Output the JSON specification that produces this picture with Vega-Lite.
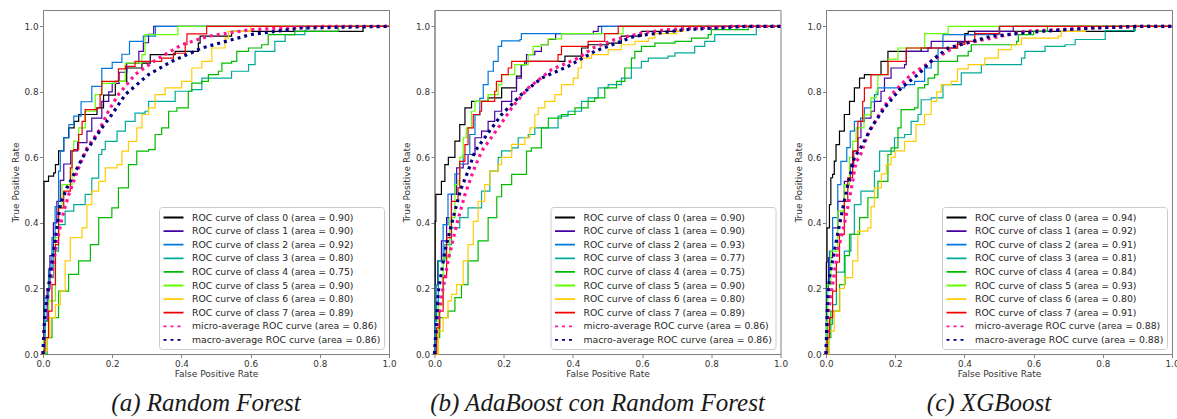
{
  "$schema": "https://vega.github.io/schema/vega-lite/v6.json",
  "background": "white",
  "padding": {"left": 10, "top": 9, "right": 0, "bottom": 0},
  "autosize": {"type": "pad"},
  "config": {
    "font": "DejaVu Sans",
    "view": {"stroke": "#808080", "strokeWidth": 1},
    "axis": {"grid": false, "domainColor": "#808080", "domainWidth": 1, "tickColor": "#808080", "tickSize": 3.5, "tickWidth": 1,
      "labelFont": "DejaVu Sans", "labelFontSize": 8.8, "labelColor": "#333333", "labelPadding": 1.5, "labelFlush": false,
      "titleFont": "DejaVu Sans", "titleFontSize": 9, "titleFontWeight": "normal", "titleColor": "#333333", "titlePadding": 2},
    "axisY": {"titlePadding": 4},
    "legend": {"orient": "bottom-right", "offset": 5, "padding": 3, "fillColor": "rgba(255,255,255,0.8)", "strokeColor": "#cccccc",
      "cornerRadius": 3, "labelFont": "DejaVu Sans", "labelFontSize": 9.3, "labelColor": "#262626", "labelLimit": 0, "labelOffset": 11,
      "symbolType": "M-1.6,0H1.6", "symbolSize": 156, "symbolOffset": 4, "rowPadding": 0.6, "symbolStrokeWidth": 1.8},
    "title": {"font": "Liberation Serif", "fontStyle": "italic", "fontWeight": "normal", "fontSize": 25, "color": "#1a1a1a", "orient": "bottom", "offset": 12, "anchor": "middle", "dx": -10}
  },
  "datasets": {
    "rf": [
      {"k":0,"x":0,"y":0},{"k":0,"x":0.003,"y":0.37},{"k":0,"x":0.003,"y":0.527},{"k":0,"x":0.016,"y":0.543},{"k":0,"x":0.031,"y":0.553},{"k":0,"x":0.036,"y":0.578},{"k":0,"x":0.045,"y":0.62},{"k":0,"x":0.06,"y":0.66},{"k":0,"x":0.074,"y":0.69},{"k":0,"x":0.09,"y":0.71},{"k":0,"x":0.103,"y":0.731},{"k":0,"x":0.156,"y":0.751},{"k":0,"x":0.175,"y":0.79},{"k":0,"x":0.209,"y":0.832},{"k":0,"x":0.242,"y":0.873},{"k":0,"x":0.286,"y":0.888},{"k":0,"x":0.31,"y":0.914},{"k":0,"x":0.382,"y":0.924},{"k":0,"x":0.449,"y":0.949},{"k":0,"x":0.454,"y":0.97},{"k":0,"x":0.526,"y":0.97},{"k":0,"x":0.545,"y":0.985},{"k":0,"x":0.925,"y":0.985},{"k":0,"x":0.925,"y":1},{"k":0,"x":1,"y":1},
      {"k":1,"x":0,"y":0},{"k":1,"x":0.005,"y":0.1},{"k":1,"x":0.012,"y":0.2},{"k":1,"x":0.02,"y":0.3},{"k":1,"x":0.03,"y":0.4},{"k":1,"x":0.04,"y":0.466},{"k":1,"x":0.05,"y":0.53},{"k":1,"x":0.06,"y":0.58},{"k":1,"x":0.08,"y":0.62},{"k":1,"x":0.1,"y":0.645},{"k":1,"x":0.127,"y":0.68},{"k":1,"x":0.141,"y":0.72},{"k":1,"x":0.17,"y":0.771},{"k":1,"x":0.19,"y":0.8},{"k":1,"x":0.2,"y":0.826},{"k":1,"x":0.22,"y":0.86},{"k":1,"x":0.242,"y":0.887},{"k":1,"x":0.277,"y":0.924},{"k":1,"x":0.29,"y":0.95},{"k":1,"x":0.305,"y":0.976},{"k":1,"x":0.32,"y":1},{"k":1,"x":1,"y":1},
      {"k":2,"x":0,"y":0},{"k":2,"x":0.005,"y":0.17},{"k":2,"x":0.016,"y":0.26},{"k":2,"x":0.026,"y":0.355},{"k":2,"x":0.035,"y":0.45},{"k":2,"x":0.045,"y":0.558},{"k":2,"x":0.05,"y":0.62},{"k":2,"x":0.06,"y":0.66},{"k":2,"x":0.075,"y":0.7},{"k":2,"x":0.089,"y":0.726},{"k":2,"x":0.11,"y":0.77},{"k":2,"x":0.141,"y":0.817},{"k":2,"x":0.17,"y":0.872},{"k":2,"x":0.2,"y":0.89},{"k":2,"x":0.228,"y":0.915},{"k":2,"x":0.25,"y":0.954},{"k":2,"x":0.29,"y":0.97},{"k":2,"x":0.325,"y":1},{"k":2,"x":1,"y":1},
      {"k":3,"x":0,"y":0},{"k":3,"x":0.005,"y":0.1},{"k":3,"x":0.016,"y":0.233},{"k":3,"x":0.031,"y":0.314},{"k":3,"x":0.045,"y":0.395},{"k":3,"x":0.064,"y":0.436},{"k":3,"x":0.089,"y":0.456},{"k":3,"x":0.122,"y":0.487},{"k":3,"x":0.141,"y":0.537},{"k":3,"x":0.161,"y":0.609},{"k":3,"x":0.17,"y":0.624},{"k":3,"x":0.18,"y":0.649},{"k":3,"x":0.214,"y":0.68},{"k":3,"x":0.238,"y":0.71},{"k":3,"x":0.266,"y":0.735},{"k":3,"x":0.295,"y":0.741},{"k":3,"x":0.305,"y":0.771},{"k":3,"x":0.377,"y":0.771},{"k":3,"x":0.382,"y":0.802},{"k":3,"x":0.43,"y":0.807},{"k":3,"x":0.459,"y":0.842},{"k":3,"x":0.507,"y":0.842},{"k":3,"x":0.545,"y":0.863},{"k":3,"x":0.594,"y":0.883},{"k":3,"x":0.613,"y":0.924},{"k":3,"x":0.67,"y":0.954},{"k":3,"x":0.7,"y":0.975},{"k":3,"x":0.757,"y":0.987},{"k":3,"x":0.76,"y":1},{"k":3,"x":1,"y":1},
      {"k":4,"x":0,"y":0},{"k":4,"x":0.012,"y":0.05},{"k":4,"x":0.026,"y":0.111},{"k":4,"x":0.045,"y":0.192},{"k":4,"x":0.074,"y":0.243},{"k":4,"x":0.103,"y":0.284},{"k":4,"x":0.137,"y":0.334},{"k":4,"x":0.161,"y":0.416},{"k":4,"x":0.199,"y":0.446},{"k":4,"x":0.218,"y":0.507},{"k":4,"x":0.247,"y":0.578},{"k":4,"x":0.271,"y":0.619},{"k":4,"x":0.305,"y":0.624},{"k":4,"x":0.324,"y":0.67},{"k":4,"x":0.343,"y":0.69},{"k":4,"x":0.363,"y":0.741},{"k":4,"x":0.387,"y":0.751},{"k":4,"x":0.42,"y":0.802},{"k":4,"x":0.43,"y":0.827},{"k":4,"x":0.459,"y":0.832},{"k":4,"x":0.478,"y":0.853},{"k":4,"x":0.507,"y":0.863},{"k":4,"x":0.517,"y":0.888},{"k":4,"x":0.545,"y":0.893},{"k":4,"x":0.56,"y":0.924},{"k":4,"x":0.594,"y":0.934},{"k":4,"x":0.632,"y":0.944},{"k":4,"x":0.651,"y":0.975},{"k":4,"x":0.728,"y":0.985},{"k":4,"x":0.853,"y":0.99},{"k":4,"x":0.853,"y":1},{"k":4,"x":1,"y":1},
      {"k":5,"x":0,"y":0},{"k":5,"x":0.002,"y":0.05},{"k":5,"x":0.016,"y":0.162},{"k":5,"x":0.036,"y":0.355},{"k":5,"x":0.045,"y":0.446},{"k":5,"x":0.055,"y":0.517},{"k":5,"x":0.084,"y":0.619},{"k":5,"x":0.089,"y":0.65},{"k":5,"x":0.103,"y":0.69},{"k":5,"x":0.122,"y":0.741},{"k":5,"x":0.151,"y":0.792},{"k":5,"x":0.17,"y":0.826},{"k":5,"x":0.209,"y":0.832},{"k":5,"x":0.238,"y":0.888},{"k":5,"x":0.286,"y":0.914},{"k":5,"x":0.295,"y":0.975},{"k":5,"x":0.39,"y":0.975},{"k":5,"x":0.39,"y":1},{"k":5,"x":1,"y":1},
      {"k":6,"x":0,"y":0},{"k":6,"x":0.005,"y":0.01},{"k":6,"x":0.012,"y":0.05},{"k":6,"x":0.02,"y":0.111},{"k":6,"x":0.036,"y":0.151},{"k":6,"x":0.05,"y":0.192},{"k":6,"x":0.064,"y":0.284},{"k":6,"x":0.079,"y":0.355},{"k":6,"x":0.113,"y":0.385},{"k":6,"x":0.127,"y":0.456},{"k":6,"x":0.141,"y":0.497},{"k":6,"x":0.161,"y":0.527},{"k":6,"x":0.18,"y":0.568},{"k":6,"x":0.214,"y":0.578},{"k":6,"x":0.228,"y":0.619},{"k":6,"x":0.247,"y":0.649},{"k":6,"x":0.271,"y":0.69},{"k":6,"x":0.286,"y":0.731},{"k":6,"x":0.305,"y":0.751},{"k":6,"x":0.324,"y":0.792},{"k":6,"x":0.353,"y":0.812},{"k":6,"x":0.401,"y":0.832},{"k":6,"x":0.43,"y":0.873},{"k":6,"x":0.459,"y":0.893},{"k":6,"x":0.488,"y":0.934},{"k":6,"x":0.526,"y":0.964},{"k":6,"x":0.536,"y":0.985},{"k":6,"x":0.6,"y":0.985},{"k":6,"x":0.6,"y":1},{"k":6,"x":1,"y":1},
      {"k":7,"x":0,"y":0},{"k":7,"x":0.002,"y":0.01},{"k":7,"x":0.005,"y":0.05},{"k":7,"x":0.016,"y":0.131},{"k":7,"x":0.026,"y":0.212},{"k":7,"x":0.036,"y":0.334},{"k":7,"x":0.045,"y":0.446},{"k":7,"x":0.06,"y":0.497},{"k":7,"x":0.079,"y":0.568},{"k":7,"x":0.084,"y":0.619},{"k":7,"x":0.089,"y":0.624},{"k":7,"x":0.103,"y":0.67},{"k":7,"x":0.113,"y":0.71},{"k":7,"x":0.122,"y":0.746},{"k":7,"x":0.156,"y":0.751},{"k":7,"x":0.165,"y":0.792},{"k":7,"x":0.17,"y":0.832},{"k":7,"x":0.2,"y":0.832},{"k":7,"x":0.218,"y":0.87},{"k":7,"x":0.238,"y":0.878},{"k":7,"x":0.266,"y":0.893},{"k":7,"x":0.343,"y":0.903},{"k":7,"x":0.377,"y":0.918},{"k":7,"x":0.411,"y":0.944},{"k":7,"x":0.416,"y":0.977},{"k":7,"x":0.473,"y":0.977},{"k":7,"x":0.473,"y":1},{"k":7,"x":1,"y":1},
      {"k":8,"x":0,"y":0},{"k":8,"x":0.005,"y":0.1},{"k":8,"x":0.015,"y":0.19},{"k":8,"x":0.026,"y":0.25},{"k":8,"x":0.04,"y":0.34},{"k":8,"x":0.055,"y":0.415},{"k":8,"x":0.074,"y":0.485},{"k":8,"x":0.1,"y":0.56},{"k":8,"x":0.125,"y":0.625},{"k":8,"x":0.161,"y":0.68},{"k":8,"x":0.189,"y":0.741},{"k":8,"x":0.218,"y":0.792},{"k":8,"x":0.266,"y":0.853},{"k":8,"x":0.334,"y":0.903},{"k":8,"x":0.401,"y":0.944},{"k":8,"x":0.478,"y":0.97},{"k":8,"x":0.6,"y":0.99},{"k":8,"x":0.8,"y":1},{"k":8,"x":1,"y":1},
      {"k":9,"x":0,"y":0},{"k":9,"x":0.005,"y":0.12},{"k":9,"x":0.022,"y":0.253},{"k":9,"x":0.036,"y":0.355},{"k":9,"x":0.05,"y":0.456},{"k":9,"x":0.069,"y":0.507},{"k":9,"x":0.1,"y":0.57},{"k":9,"x":0.125,"y":0.62},{"k":9,"x":0.151,"y":0.66},{"k":9,"x":0.17,"y":0.69},{"k":9,"x":0.199,"y":0.731},{"k":9,"x":0.238,"y":0.792},{"k":9,"x":0.305,"y":0.853},{"k":9,"x":0.372,"y":0.893},{"k":9,"x":0.459,"y":0.934},{"k":9,"x":0.6,"y":0.975},{"k":9,"x":0.747,"y":0.995},{"k":9,"x":1,"y":1}
    ],
    "ada": [
      {"k":0,"x":0,"y":0},{"k":0,"x":0.002,"y":0.405},{"k":0,"x":0.004,"y":0.487},{"k":0,"x":0.015,"y":0.487},{"k":0,"x":0.02,"y":0.527},{"k":0,"x":0.03,"y":0.578},{"k":0,"x":0.04,"y":0.6},{"k":0,"x":0.059,"y":0.65},{"k":0,"x":0.073,"y":0.7},{"k":0,"x":0.088,"y":0.751},{"k":0,"x":0.107,"y":0.771},{"k":0,"x":0.131,"y":0.771},{"k":0,"x":0.155,"y":0.782},{"k":0,"x":0.194,"y":0.812},{"k":0,"x":0.223,"y":0.812},{"k":0,"x":0.237,"y":0.848},{"k":0,"x":0.251,"y":0.883},{"k":0,"x":0.261,"y":0.893},{"k":0,"x":0.357,"y":0.893},{"k":0,"x":0.377,"y":0.909},{"k":0,"x":0.425,"y":0.934},{"k":0,"x":0.444,"y":0.944},{"k":0,"x":0.502,"y":0.949},{"k":0,"x":0.54,"y":0.97},{"k":0,"x":0.598,"y":0.985},{"k":0,"x":0.714,"y":0.99},{"k":0,"x":0.714,"y":1},{"k":0,"x":1,"y":1},
      {"k":1,"x":0,"y":0},{"k":1,"x":0.002,"y":0.1},{"k":1,"x":0.004,"y":0.21},{"k":1,"x":0.009,"y":0.284},{"k":1,"x":0.02,"y":0.345},{"k":1,"x":0.035,"y":0.416},{"k":1,"x":0.049,"y":0.487},{"k":1,"x":0.064,"y":0.568},{"k":1,"x":0.083,"y":0.58},{"k":1,"x":0.097,"y":0.609},{"k":1,"x":0.117,"y":0.66},{"k":1,"x":0.136,"y":0.68},{"k":1,"x":0.155,"y":0.71},{"k":1,"x":0.174,"y":0.741},{"k":1,"x":0.194,"y":0.771},{"k":1,"x":0.223,"y":0.802},{"k":1,"x":0.237,"y":0.842},{"k":1,"x":0.251,"y":0.883},{"k":1,"x":0.266,"y":0.914},{"k":1,"x":0.29,"y":0.924},{"k":1,"x":0.309,"y":0.944},{"k":1,"x":0.329,"y":0.96},{"k":1,"x":0.35,"y":0.978},{"k":1,"x":0.459,"y":0.985},{"k":1,"x":0.473,"y":1},{"k":1,"x":1,"y":1},
      {"k":2,"x":0,"y":0},{"k":2,"x":0.002,"y":0.1},{"k":2,"x":0.006,"y":0.16},{"k":2,"x":0.011,"y":0.284},{"k":2,"x":0.025,"y":0.395},{"k":2,"x":0.039,"y":0.488},{"k":2,"x":0.059,"y":0.55},{"k":2,"x":0.073,"y":0.58},{"k":2,"x":0.083,"y":0.609},{"k":2,"x":0.102,"y":0.67},{"k":2,"x":0.117,"y":0.73},{"k":2,"x":0.131,"y":0.78},{"k":2,"x":0.141,"y":0.822},{"k":2,"x":0.155,"y":0.863},{"k":2,"x":0.17,"y":0.893},{"k":2,"x":0.184,"y":0.939},{"k":2,"x":0.194,"y":0.956},{"k":2,"x":0.247,"y":0.96},{"k":2,"x":0.251,"y":0.978},{"k":2,"x":0.372,"y":0.978},{"k":2,"x":0.483,"y":1},{"k":2,"x":1,"y":1},
      {"k":3,"x":0,"y":0},{"k":3,"x":0.002,"y":0.1},{"k":3,"x":0.004,"y":0.21},{"k":3,"x":0.011,"y":0.284},{"k":3,"x":0.03,"y":0.334},{"k":3,"x":0.049,"y":0.385},{"k":3,"x":0.073,"y":0.416},{"k":3,"x":0.097,"y":0.446},{"k":3,"x":0.136,"y":0.497},{"k":3,"x":0.16,"y":0.558},{"k":3,"x":0.184,"y":0.6},{"k":3,"x":0.194,"y":0.62},{"k":3,"x":0.223,"y":0.629},{"k":3,"x":0.242,"y":0.66},{"k":3,"x":0.271,"y":0.67},{"k":3,"x":0.29,"y":0.69},{"k":3,"x":0.319,"y":0.69},{"k":3,"x":0.357,"y":0.726},{"k":3,"x":0.386,"y":0.741},{"k":3,"x":0.425,"y":0.771},{"k":3,"x":0.444,"y":0.782},{"k":3,"x":0.473,"y":0.812},{"k":3,"x":0.502,"y":0.822},{"k":3,"x":0.54,"y":0.842},{"k":3,"x":0.569,"y":0.873},{"k":3,"x":0.598,"y":0.893},{"k":3,"x":0.618,"y":0.903},{"k":3,"x":0.675,"y":0.909},{"k":3,"x":0.695,"y":0.919},{"k":3,"x":0.752,"y":0.939},{"k":3,"x":0.781,"y":0.954},{"k":3,"x":0.81,"y":0.975},{"k":3,"x":0.93,"y":0.985},{"k":3,"x":0.93,"y":1},{"k":3,"x":1,"y":1},
      {"k":4,"x":0,"y":0},{"k":4,"x":0.006,"y":0.05},{"k":4,"x":0.015,"y":0.111},{"k":4,"x":0.039,"y":0.131},{"k":4,"x":0.059,"y":0.172},{"k":4,"x":0.078,"y":0.212},{"k":4,"x":0.097,"y":0.284},{"k":4,"x":0.126,"y":0.345},{"k":4,"x":0.155,"y":0.416},{"k":4,"x":0.18,"y":0.48},{"k":4,"x":0.194,"y":0.517},{"k":4,"x":0.223,"y":0.548},{"k":4,"x":0.266,"y":0.619},{"k":4,"x":0.28,"y":0.629},{"k":4,"x":0.309,"y":0.69},{"k":4,"x":0.329,"y":0.72},{"k":4,"x":0.367,"y":0.731},{"k":4,"x":0.406,"y":0.751},{"k":4,"x":0.444,"y":0.771},{"k":4,"x":0.463,"y":0.782},{"k":4,"x":0.492,"y":0.812},{"k":4,"x":0.526,"y":0.832},{"k":4,"x":0.55,"y":0.873},{"k":4,"x":0.569,"y":0.903},{"k":4,"x":0.579,"y":0.924},{"k":4,"x":0.598,"y":0.939},{"k":4,"x":0.637,"y":0.949},{"k":4,"x":0.695,"y":0.954},{"k":4,"x":0.743,"y":0.964},{"k":4,"x":0.791,"y":0.975},{"k":4,"x":0.8,"y":0.99},{"k":4,"x":0.907,"y":0.99},{"k":4,"x":0.907,"y":1},{"k":4,"x":1,"y":1},
      {"k":5,"x":0,"y":0},{"k":5,"x":0.011,"y":0.15},{"k":5,"x":0.025,"y":0.294},{"k":5,"x":0.044,"y":0.416},{"k":5,"x":0.059,"y":0.517},{"k":5,"x":0.068,"y":0.53},{"k":5,"x":0.073,"y":0.6},{"k":5,"x":0.083,"y":0.66},{"k":5,"x":0.092,"y":0.69},{"k":5,"x":0.107,"y":0.741},{"k":5,"x":0.117,"y":0.771},{"k":5,"x":0.155,"y":0.792},{"k":5,"x":0.184,"y":0.822},{"k":5,"x":0.194,"y":0.853},{"k":5,"x":0.232,"y":0.883},{"k":5,"x":0.271,"y":0.914},{"k":5,"x":0.285,"y":0.939},{"k":5,"x":0.309,"y":0.944},{"k":5,"x":0.329,"y":0.962},{"k":5,"x":0.367,"y":0.978},{"k":5,"x":0.545,"y":0.978},{"k":5,"x":0.545,"y":1},{"k":5,"x":1,"y":1},
      {"k":6,"x":0,"y":0},{"k":6,"x":0.011,"y":0.07},{"k":6,"x":0.025,"y":0.111},{"k":6,"x":0.039,"y":0.162},{"k":6,"x":0.049,"y":0.182},{"k":6,"x":0.064,"y":0.212},{"k":6,"x":0.083,"y":0.284},{"k":6,"x":0.097,"y":0.334},{"k":6,"x":0.112,"y":0.405},{"k":6,"x":0.126,"y":0.466},{"k":6,"x":0.145,"y":0.517},{"k":6,"x":0.16,"y":0.558},{"k":6,"x":0.184,"y":0.578},{"k":6,"x":0.194,"y":0.6},{"k":6,"x":0.223,"y":0.64},{"k":6,"x":0.261,"y":0.66},{"k":6,"x":0.276,"y":0.69},{"k":6,"x":0.29,"y":0.731},{"k":6,"x":0.3,"y":0.751},{"k":6,"x":0.319,"y":0.771},{"k":6,"x":0.348,"y":0.792},{"k":6,"x":0.367,"y":0.822},{"k":6,"x":0.401,"y":0.842},{"k":6,"x":0.415,"y":0.873},{"k":6,"x":0.425,"y":0.903},{"k":6,"x":0.454,"y":0.914},{"k":6,"x":0.502,"y":0.929},{"k":6,"x":0.54,"y":0.944},{"k":6,"x":0.579,"y":0.954},{"k":6,"x":0.618,"y":0.964},{"k":6,"x":0.637,"y":0.978},{"k":6,"x":0.7,"y":0.985},{"k":6,"x":0.72,"y":1},{"k":6,"x":1,"y":1},
      {"k":7,"x":0,"y":0},{"k":7,"x":0.006,"y":0.08},{"k":7,"x":0.015,"y":0.131},{"k":7,"x":0.025,"y":0.233},{"k":7,"x":0.035,"y":0.355},{"k":7,"x":0.049,"y":0.466},{"k":7,"x":0.068,"y":0.507},{"k":7,"x":0.073,"y":0.588},{"k":7,"x":0.088,"y":0.639},{"k":7,"x":0.097,"y":0.69},{"k":7,"x":0.112,"y":0.731},{"k":7,"x":0.131,"y":0.741},{"k":7,"x":0.136,"y":0.771},{"k":7,"x":0.174,"y":0.802},{"k":7,"x":0.179,"y":0.832},{"k":7,"x":0.194,"y":0.853},{"k":7,"x":0.213,"y":0.873},{"k":7,"x":0.223,"y":0.893},{"k":7,"x":0.309,"y":0.893},{"k":7,"x":0.357,"y":0.914},{"k":7,"x":0.367,"y":0.939},{"k":7,"x":0.406,"y":0.939},{"k":7,"x":0.444,"y":0.954},{"k":7,"x":0.492,"y":0.978},{"k":7,"x":0.531,"y":1},{"k":7,"x":1,"y":1},
      {"k":8,"x":0,"y":0},{"k":8,"x":0.006,"y":0.07},{"k":8,"x":0.02,"y":0.172},{"k":8,"x":0.039,"y":0.284},{"k":8,"x":0.064,"y":0.395},{"k":8,"x":0.088,"y":0.487},{"k":8,"x":0.112,"y":0.558},{"k":8,"x":0.136,"y":0.619},{"k":8,"x":0.184,"y":0.69},{"k":8,"x":0.223,"y":0.751},{"k":8,"x":0.271,"y":0.812},{"k":8,"x":0.338,"y":0.868},{"k":8,"x":0.415,"y":0.903},{"k":8,"x":0.46,"y":0.935},{"k":8,"x":0.521,"y":0.96},{"k":8,"x":0.6,"y":0.98},{"k":8,"x":0.675,"y":0.99},{"k":8,"x":0.85,"y":1},{"k":8,"x":1,"y":1},
      {"k":9,"x":0,"y":0},{"k":9,"x":0.011,"y":0.19},{"k":9,"x":0.03,"y":0.314},{"k":9,"x":0.054,"y":0.416},{"k":9,"x":0.075,"y":0.5},{"k":9,"x":0.097,"y":0.558},{"k":9,"x":0.117,"y":0.619},{"k":9,"x":0.145,"y":0.66},{"k":9,"x":0.194,"y":0.731},{"k":9,"x":0.251,"y":0.792},{"k":9,"x":0.309,"y":0.842},{"k":9,"x":0.386,"y":0.878},{"k":9,"x":0.463,"y":0.924},{"k":9,"x":0.579,"y":0.97},{"k":9,"x":0.724,"y":0.99},{"k":9,"x":0.9,"y":1},{"k":9,"x":1,"y":1}
    ],
    "xgb": [
      {"k":0,"x":0,"y":0},{"k":0,"x":0.001,"y":0.28},{"k":0,"x":0.003,"y":0.385},{"k":0,"x":0.01,"y":0.456},{"k":0,"x":0.014,"y":0.538},{"k":0,"x":0.019,"y":0.548},{"k":0,"x":0.024,"y":0.589},{"k":0,"x":0.029,"y":0.639},{"k":0,"x":0.039,"y":0.68},{"k":0,"x":0.053,"y":0.731},{"k":0,"x":0.068,"y":0.771},{"k":0,"x":0.082,"y":0.812},{"k":0,"x":0.097,"y":0.842},{"k":0,"x":0.111,"y":0.853},{"k":0,"x":0.15,"y":0.853},{"k":0,"x":0.159,"y":0.893},{"k":0,"x":0.179,"y":0.924},{"k":0,"x":0.271,"y":0.924},{"k":0,"x":0.275,"y":0.934},{"k":0,"x":0.38,"y":0.95},{"k":0,"x":0.401,"y":0.978},{"k":0,"x":0.411,"y":0.985},{"k":0,"x":0.807,"y":0.985},{"k":0,"x":0.89,"y":0.99},{"k":0,"x":0.89,"y":1},{"k":0,"x":1,"y":1},
      {"k":1,"x":0,"y":0},{"k":1,"x":0.002,"y":0.2},{"k":1,"x":0.007,"y":0.294},{"k":1,"x":0.019,"y":0.385},{"k":1,"x":0.034,"y":0.466},{"k":1,"x":0.053,"y":0.527},{"k":1,"x":0.07,"y":0.58},{"k":1,"x":0.08,"y":0.62},{"k":1,"x":0.092,"y":0.66},{"k":1,"x":0.101,"y":0.71},{"k":1,"x":0.111,"y":0.72},{"k":1,"x":0.13,"y":0.741},{"k":1,"x":0.14,"y":0.771},{"k":1,"x":0.159,"y":0.802},{"k":1,"x":0.169,"y":0.842},{"k":1,"x":0.188,"y":0.873},{"k":1,"x":0.227,"y":0.883},{"k":1,"x":0.232,"y":0.924},{"k":1,"x":0.266,"y":0.924},{"k":1,"x":0.295,"y":0.934},{"k":1,"x":0.304,"y":0.954},{"k":1,"x":0.401,"y":0.975},{"k":1,"x":0.43,"y":0.985},{"k":1,"x":0.541,"y":1},{"k":1,"x":1,"y":1},
      {"k":2,"x":0,"y":0},{"k":2,"x":0.003,"y":0.212},{"k":2,"x":0.01,"y":0.314},{"k":2,"x":0.019,"y":0.416},{"k":2,"x":0.034,"y":0.517},{"k":2,"x":0.043,"y":0.588},{"k":2,"x":0.06,"y":0.63},{"k":2,"x":0.07,"y":0.68},{"k":2,"x":0.082,"y":0.71},{"k":2,"x":0.1,"y":0.72},{"k":2,"x":0.111,"y":0.751},{"k":2,"x":0.13,"y":0.77},{"k":2,"x":0.14,"y":0.792},{"k":2,"x":0.15,"y":0.812},{"k":2,"x":0.208,"y":0.812},{"k":2,"x":0.227,"y":0.822},{"k":2,"x":0.256,"y":0.832},{"k":2,"x":0.285,"y":0.873},{"k":2,"x":0.304,"y":0.893},{"k":2,"x":0.324,"y":0.934},{"k":2,"x":0.338,"y":0.975},{"k":2,"x":0.5,"y":0.975},{"k":2,"x":0.5,"y":1},{"k":2,"x":1,"y":1},
      {"k":3,"x":0,"y":0},{"k":3,"x":0.005,"y":0.09},{"k":3,"x":0.019,"y":0.151},{"k":3,"x":0.03,"y":0.25},{"k":3,"x":0.053,"y":0.314},{"k":3,"x":0.072,"y":0.365},{"k":3,"x":0.082,"y":0.456},{"k":3,"x":0.101,"y":0.497},{"k":3,"x":0.14,"y":0.558},{"k":3,"x":0.155,"y":0.619},{"k":3,"x":0.198,"y":0.66},{"k":3,"x":0.227,"y":0.67},{"k":3,"x":0.246,"y":0.71},{"k":3,"x":0.266,"y":0.731},{"k":3,"x":0.275,"y":0.776},{"k":3,"x":0.304,"y":0.782},{"k":3,"x":0.338,"y":0.822},{"k":3,"x":0.372,"y":0.822},{"k":3,"x":0.391,"y":0.858},{"k":3,"x":0.449,"y":0.883},{"k":3,"x":0.536,"y":0.883},{"k":3,"x":0.565,"y":0.903},{"k":3,"x":0.575,"y":0.924},{"k":3,"x":0.633,"y":0.939},{"k":3,"x":0.691,"y":0.944},{"k":3,"x":0.72,"y":0.96},{"k":3,"x":0.807,"y":0.987},{"k":3,"x":0.894,"y":0.987},{"k":3,"x":0.894,"y":1},{"k":3,"x":1,"y":1},
      {"k":4,"x":0,"y":0},{"k":4,"x":0.005,"y":0.05},{"k":4,"x":0.014,"y":0.131},{"k":4,"x":0.039,"y":0.212},{"k":4,"x":0.055,"y":0.3},{"k":4,"x":0.068,"y":0.365},{"k":4,"x":0.097,"y":0.416},{"k":4,"x":0.121,"y":0.477},{"k":4,"x":0.15,"y":0.527},{"k":4,"x":0.179,"y":0.609},{"k":4,"x":0.188,"y":0.629},{"k":4,"x":0.208,"y":0.69},{"k":4,"x":0.217,"y":0.746},{"k":4,"x":0.256,"y":0.751},{"k":4,"x":0.266,"y":0.812},{"k":4,"x":0.285,"y":0.822},{"k":4,"x":0.295,"y":0.842},{"k":4,"x":0.314,"y":0.853},{"k":4,"x":0.324,"y":0.893},{"k":4,"x":0.353,"y":0.893},{"k":4,"x":0.38,"y":0.91},{"k":4,"x":0.411,"y":0.924},{"k":4,"x":0.42,"y":0.944},{"k":4,"x":0.551,"y":0.954},{"k":4,"x":0.556,"y":0.975},{"k":4,"x":0.6,"y":0.985},{"k":4,"x":0.64,"y":1},{"k":4,"x":1,"y":1},
      {"k":5,"x":0,"y":0},{"k":5,"x":0.002,"y":0.1},{"k":5,"x":0.005,"y":0.212},{"k":5,"x":0.014,"y":0.314},{"k":5,"x":0.034,"y":0.436},{"k":5,"x":0.053,"y":0.517},{"k":5,"x":0.068,"y":0.6},{"k":5,"x":0.077,"y":0.649},{"k":5,"x":0.087,"y":0.69},{"k":5,"x":0.11,"y":0.73},{"k":5,"x":0.13,"y":0.782},{"k":5,"x":0.145,"y":0.802},{"k":5,"x":0.15,"y":0.853},{"k":5,"x":0.18,"y":0.9},{"k":5,"x":0.208,"y":0.934},{"k":5,"x":0.285,"y":0.978},{"k":5,"x":0.353,"y":1},{"k":5,"x":1,"y":1},
      {"k":6,"x":0,"y":0},{"k":6,"x":0.01,"y":0.07},{"k":6,"x":0.024,"y":0.131},{"k":6,"x":0.04,"y":0.2},{"k":6,"x":0.053,"y":0.233},{"k":6,"x":0.077,"y":0.284},{"k":6,"x":0.092,"y":0.375},{"k":6,"x":0.121,"y":0.385},{"k":6,"x":0.13,"y":0.45},{"k":6,"x":0.14,"y":0.507},{"k":6,"x":0.16,"y":0.55},{"k":6,"x":0.174,"y":0.578},{"k":6,"x":0.188,"y":0.6},{"k":6,"x":0.2,"y":0.62},{"k":6,"x":0.227,"y":0.649},{"k":6,"x":0.26,"y":0.7},{"k":6,"x":0.285,"y":0.731},{"k":6,"x":0.304,"y":0.771},{"k":6,"x":0.32,"y":0.8},{"k":6,"x":0.333,"y":0.822},{"k":6,"x":0.362,"y":0.832},{"k":6,"x":0.38,"y":0.87},{"k":6,"x":0.411,"y":0.883},{"k":6,"x":0.459,"y":0.903},{"k":6,"x":0.498,"y":0.929},{"k":6,"x":0.536,"y":0.944},{"k":6,"x":0.565,"y":0.964},{"k":6,"x":0.671,"y":0.97},{"k":6,"x":0.68,"y":0.985},{"k":6,"x":0.749,"y":0.99},{"k":6,"x":0.749,"y":1},{"k":6,"x":1,"y":1},
      {"k":7,"x":0,"y":0},{"k":7,"x":0.003,"y":0.05},{"k":7,"x":0.01,"y":0.111},{"k":7,"x":0.019,"y":0.192},{"k":7,"x":0.03,"y":0.28},{"k":7,"x":0.039,"y":0.365},{"k":7,"x":0.053,"y":0.466},{"k":7,"x":0.063,"y":0.538},{"k":7,"x":0.077,"y":0.619},{"k":7,"x":0.092,"y":0.71},{"k":7,"x":0.106,"y":0.771},{"k":7,"x":0.111,"y":0.812},{"k":7,"x":0.126,"y":0.812},{"k":7,"x":0.13,"y":0.853},{"k":7,"x":0.174,"y":0.853},{"k":7,"x":0.179,"y":0.893},{"k":7,"x":0.232,"y":0.893},{"k":7,"x":0.232,"y":0.934},{"k":7,"x":0.324,"y":0.934},{"k":7,"x":0.38,"y":0.945},{"k":7,"x":0.401,"y":0.954},{"k":7,"x":0.43,"y":0.978},{"k":7,"x":0.502,"y":0.978},{"k":7,"x":0.502,"y":1},{"k":7,"x":1,"y":1},
      {"k":8,"x":0,"y":0},{"k":8,"x":0.005,"y":0.111},{"k":8,"x":0.019,"y":0.212},{"k":8,"x":0.034,"y":0.314},{"k":8,"x":0.053,"y":0.395},{"k":8,"x":0.072,"y":0.497},{"k":8,"x":0.087,"y":0.588},{"k":8,"x":0.097,"y":0.6},{"k":8,"x":0.121,"y":0.67},{"k":8,"x":0.159,"y":0.741},{"k":8,"x":0.198,"y":0.802},{"k":8,"x":0.246,"y":0.853},{"k":8,"x":0.304,"y":0.893},{"k":8,"x":0.382,"y":0.944},{"k":8,"x":0.478,"y":0.964},{"k":8,"x":0.575,"y":0.985},{"k":8,"x":0.768,"y":0.995},{"k":8,"x":0.9,"y":1},{"k":8,"x":1,"y":1},
      {"k":9,"x":0,"y":0},{"k":9,"x":0.004,"y":0.15},{"k":9,"x":0.01,"y":0.233},{"k":9,"x":0.024,"y":0.314},{"k":9,"x":0.043,"y":0.416},{"k":9,"x":0.063,"y":0.517},{"k":9,"x":0.082,"y":0.6},{"k":9,"x":0.106,"y":0.639},{"k":9,"x":0.13,"y":0.69},{"k":9,"x":0.169,"y":0.751},{"k":9,"x":0.217,"y":0.812},{"k":9,"x":0.266,"y":0.853},{"k":9,"x":0.31,"y":0.9},{"k":9,"x":0.353,"y":0.934},{"k":9,"x":0.478,"y":0.97},{"k":9,"x":0.623,"y":0.985},{"k":9,"x":0.768,"y":0.995},{"k":9,"x":0.9,"y":1},{"k":9,"x":1,"y":1}
    ]
  },
  "bounds": "flush",
  "spacing": 45.5,
  "resolve": {
    "scale": {"color": "independent", "strokeDash": "independent"},
    "legend": {"color": "independent", "strokeDash": "independent"}
  },
  "hconcat": [
    {
      "width": 346, "height": 344,
      "title": {"text": "(a) Random Forest"},
      "encoding": {
        "x": {"field": "x", "type": "quantitative", "scale": {"domain": [0, 1], "nice": false}, "axis": {"values": [0, 0.2, 0.4, 0.6, 0.8, 1], "format": ".1f"}, "title": "False Positive Rate"},
        "y": {"field": "y", "type": "quantitative", "scale": {"domain": [0, 1.05], "nice": false}, "axis": {"values": [0, 0.2, 0.4, 0.6, 0.8, 1], "format": ".1f"}, "title": "True Positive Rate"},
        "color": {"field": "k", "type": "ordinal", "scale": {"domain": [0,1,2,3,4,5,6,7,8,9], "range": ["#000000","#4400a1","#0077dd","#00aa99","#00bb00","#63ff00","#ffcc00","#ee0000","#ff1493","#000080"]},
          "legend": {"title": null, "labelExpr": "['ROC curve of class 0 (area = 0.90)','ROC curve of class 1 (area = 0.90)','ROC curve of class 2 (area = 0.92)','ROC curve of class 3 (area = 0.80)','ROC curve of class 4 (area = 0.75)','ROC curve of class 5 (area = 0.90)','ROC curve of class 6 (area = 0.80)','ROC curve of class 7 (area = 0.89)','micro-average ROC curve (area = 0.86)','macro-average ROC curve (area = 0.86)'][datum.value]"}},
        "strokeDash": {"field": "k", "type": "ordinal", "scale": {"domain": [0,1,2,3,4,5,6,7,8,9], "range": [[1,0],[1,0],[1,0],[1,0],[1,0],[1,0],[1,0],[1,0],[3,4],[3,4]]},
          "legend": {"title": null, "labelExpr": "['ROC curve of class 0 (area = 0.90)','ROC curve of class 1 (area = 0.90)','ROC curve of class 2 (area = 0.92)','ROC curve of class 3 (area = 0.80)','ROC curve of class 4 (area = 0.75)','ROC curve of class 5 (area = 0.90)','ROC curve of class 6 (area = 0.80)','ROC curve of class 7 (area = 0.89)','micro-average ROC curve (area = 0.86)','macro-average ROC curve (area = 0.86)'][datum.value]"}},
        "order": {"value": null}
      },
      "layer": [
        {"data": {"name": "rf"}, "transform": [{"filter": "datum.k < 8"}], "mark": {"type": "line", "interpolate": "step-after", "strokeWidth": 1.2}},
        {"data": {"name": "rf"}, "transform": [{"filter": "datum.k >= 8"}], "mark": {"type": "line", "interpolate": "linear", "strokeWidth": 3.2}},
        {"data": {"values": [{}]}, "mark": {"type": "rule", "color": "black", "strokeDash": [4, 2.2], "strokeWidth": 1.2},
          "encoding": {"x": {"datum": 0, "type": "quantitative"}, "y": {"datum": 0, "type": "quantitative"}, "x2": {"datum": 1}, "y2": {"datum": 1}, "color": null, "strokeDash": null, "order": null}}
      ]
    },
    {
      "width": 346, "height": 344,
      "title": {"text": "(b) AdaBoost con Random Forest"},
      "encoding": {
        "x": {"field": "x", "type": "quantitative", "scale": {"domain": [0, 1], "nice": false}, "axis": {"values": [0, 0.2, 0.4, 0.6, 0.8, 1], "format": ".1f"}, "title": "False Positive Rate"},
        "y": {"field": "y", "type": "quantitative", "scale": {"domain": [0, 1.05], "nice": false}, "axis": {"values": [0, 0.2, 0.4, 0.6, 0.8, 1], "format": ".1f"}, "title": "True Positive Rate"},
        "color": {"field": "k", "type": "ordinal", "scale": {"domain": [0,1,2,3,4,5,6,7,8,9], "range": ["#000000","#4400a1","#0077dd","#00aa99","#00bb00","#63ff00","#ffcc00","#ee0000","#ff1493","#000080"]},
          "legend": {"title": null, "labelExpr": "['ROC curve of class 0 (area = 0.90)','ROC curve of class 1 (area = 0.90)','ROC curve of class 2 (area = 0.93)','ROC curve of class 3 (area = 0.77)','ROC curve of class 4 (area = 0.75)','ROC curve of class 5 (area = 0.90)','ROC curve of class 6 (area = 0.80)','ROC curve of class 7 (area = 0.89)','micro-average ROC curve (area = 0.86)','macro-average ROC curve (area = 0.86)'][datum.value]"}},
        "strokeDash": {"field": "k", "type": "ordinal", "scale": {"domain": [0,1,2,3,4,5,6,7,8,9], "range": [[1,0],[1,0],[1,0],[1,0],[1,0],[1,0],[1,0],[1,0],[3,4],[3,4]]},
          "legend": {"title": null, "labelExpr": "['ROC curve of class 0 (area = 0.90)','ROC curve of class 1 (area = 0.90)','ROC curve of class 2 (area = 0.93)','ROC curve of class 3 (area = 0.77)','ROC curve of class 4 (area = 0.75)','ROC curve of class 5 (area = 0.90)','ROC curve of class 6 (area = 0.80)','ROC curve of class 7 (area = 0.89)','micro-average ROC curve (area = 0.86)','macro-average ROC curve (area = 0.86)'][datum.value]"}},
        "order": {"value": null}
      },
      "layer": [
        {"data": {"name": "ada"}, "transform": [{"filter": "datum.k < 8"}], "mark": {"type": "line", "interpolate": "step-after", "strokeWidth": 1.2}},
        {"data": {"name": "ada"}, "transform": [{"filter": "datum.k >= 8"}], "mark": {"type": "line", "interpolate": "linear", "strokeWidth": 3.2}},
        {"data": {"values": [{}]}, "mark": {"type": "rule", "color": "black", "strokeDash": [4, 2.2], "strokeWidth": 1.2},
          "encoding": {"x": {"datum": 0, "type": "quantitative"}, "y": {"datum": 0, "type": "quantitative"}, "x2": {"datum": 1}, "y2": {"datum": 1}, "color": null, "strokeDash": null, "order": null}}
      ]
    },
    {
      "width": 346, "height": 344,
      "title": {"text": "(c) XGBoost"},
      "encoding": {
        "x": {"field": "x", "type": "quantitative", "scale": {"domain": [0, 1], "nice": false}, "axis": {"values": [0, 0.2, 0.4, 0.6, 0.8, 1], "format": ".1f"}, "title": "False Positive Rate"},
        "y": {"field": "y", "type": "quantitative", "scale": {"domain": [0, 1.05], "nice": false}, "axis": {"values": [0, 0.2, 0.4, 0.6, 0.8, 1], "format": ".1f"}, "title": "True Positive Rate"},
        "color": {"field": "k", "type": "ordinal", "scale": {"domain": [0,1,2,3,4,5,6,7,8,9], "range": ["#000000","#4400a1","#0077dd","#00aa99","#00bb00","#63ff00","#ffcc00","#ee0000","#ff1493","#000080"]},
          "legend": {"title": null, "labelExpr": "['ROC curve of class 0 (area = 0.94)','ROC curve of class 1 (area = 0.92)','ROC curve of class 2 (area = 0.91)','ROC curve of class 3 (area = 0.81)','ROC curve of class 4 (area = 0.84)','ROC curve of class 5 (area = 0.93)','ROC curve of class 6 (area = 0.80)','ROC curve of class 7 (area = 0.91)','micro-average ROC curve (area = 0.88)','macro-average ROC curve (area = 0.88)'][datum.value]"}},
        "strokeDash": {"field": "k", "type": "ordinal", "scale": {"domain": [0,1,2,3,4,5,6,7,8,9], "range": [[1,0],[1,0],[1,0],[1,0],[1,0],[1,0],[1,0],[1,0],[3,4],[3,4]]},
          "legend": {"title": null, "labelExpr": "['ROC curve of class 0 (area = 0.94)','ROC curve of class 1 (area = 0.92)','ROC curve of class 2 (area = 0.91)','ROC curve of class 3 (area = 0.81)','ROC curve of class 4 (area = 0.84)','ROC curve of class 5 (area = 0.93)','ROC curve of class 6 (area = 0.80)','ROC curve of class 7 (area = 0.91)','micro-average ROC curve (area = 0.88)','macro-average ROC curve (area = 0.88)'][datum.value]"}},
        "order": {"value": null}
      },
      "layer": [
        {"data": {"name": "xgb"}, "transform": [{"filter": "datum.k < 8"}], "mark": {"type": "line", "interpolate": "step-after", "strokeWidth": 1.2}},
        {"data": {"name": "xgb"}, "transform": [{"filter": "datum.k >= 8"}], "mark": {"type": "line", "interpolate": "linear", "strokeWidth": 3.2}},
        {"data": {"values": [{}]}, "mark": {"type": "rule", "color": "black", "strokeDash": [4, 2.2], "strokeWidth": 1.2},
          "encoding": {"x": {"datum": 0, "type": "quantitative"}, "y": {"datum": 0, "type": "quantitative"}, "x2": {"datum": 1}, "y2": {"datum": 1}, "color": null, "strokeDash": null, "order": null}}
      ]
    }
  ]
}
